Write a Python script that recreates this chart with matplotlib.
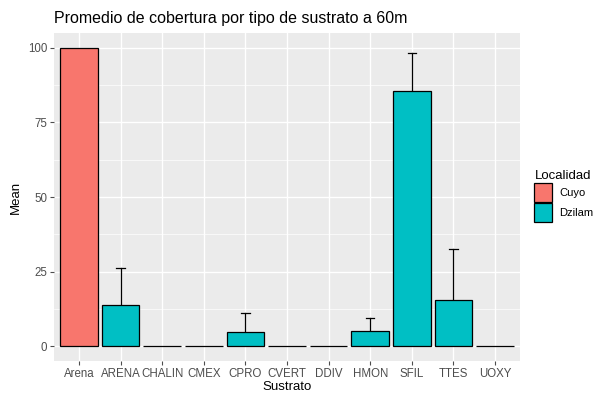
import numpy as np
import matplotlib.pyplot as plt
from matplotlib.patches import Patch

plt.rcParams['font.family'] = ['Liberation Sans', 'DejaVu Sans']

sustrato = ["Arena", "ARENA", "CHALIN", "CMEX", "CPRO", "CVERT", "DDIV", "HMON", "SFIL", "TTES", "UOXY"]
localidad = ["Cuyo", "Dzilam", "Dzilam", "Dzilam", "Dzilam", "Dzilam", "Dzilam", "Dzilam", "Dzilam", "Dzilam", "Dzilam"]
mean = [100, 13.9, 0, 0, 4.8, 0, 0, 5.0, 85.7, 15.6, 0]
upper = [100, 26.2, 0, 0, 11.0, 0, 0, 9.5, 98.2, 32.4, 0]

colores = {"Cuyo": "#F8766D", "Dzilam": "#00BFC4"}

fig = plt.figure(figsize=(6.08, 4.04), dpi=100)
ax = fig.add_axes([54/608, 1 - 361/404, (520-54)/608, (361-33)/404])
ax.set_facecolor("#EBEBEB")
for s in ax.spines.values():
    s.set_visible(False)

x = np.arange(1, len(sustrato) + 1)

# grid ggplot style
for v in [12.5, 37.5, 62.5, 87.5]:
    ax.axhline(v, color="white", lw=0.5, zorder=0)
for v in [0, 25, 50, 75, 100]:
    ax.axhline(v, color="white", lw=1.0, zorder=0)
for xi in x:
    ax.axvline(xi, color="white", lw=1.0, zorder=0)

# error bars (upper only)
for xi, m, u in zip(x, mean, upper):
    if u > m:
        ax.plot([xi, xi], [m, u], color="black", lw=0.9, zorder=1)
        ax.plot([xi - 0.1, xi + 0.1], [u, u], color="black", lw=0.9, zorder=1)

ax.bar(x, mean, width=0.9, color=[colores[l] for l in localidad],
       edgecolor="black", linewidth=0.9, zorder=2)

ax.set_xlim(0.4, 11.6)
ax.set_ylim(-5, 105)
ax.set_yticks([0, 25, 50, 75, 100])
ax.set_xticks(x)
ax.set_xticklabels(sustrato)
ax.tick_params(colors="#4D4D4D", labelsize=8.3, length=3, width=0.8, pad=2)
ax.set_xlabel("Sustrato", fontsize=9.5, labelpad=1)
ax.set_ylabel("Mean", fontsize=9.5, labelpad=4)
ax.set_title("Promedio de cobertura por tipo de sustrato a 60m", loc="left",
             fontsize=11.5, pad=7, x=0)

handles = [Patch(facecolor=colores[k], edgecolor="black", linewidth=0.9, label=k)
           for k in ["Cuyo", "Dzilam"]]
leg = fig.legend(handles=handles, title="Localidad", loc="upper left",
                 bbox_to_anchor=(530/608, 1 - 166/404), frameon=False,
                 fontsize=8, title_fontsize=9.5, handlelength=1.6, handleheight=2.3,
                 handletextpad=0.6, labelspacing=0.05, borderaxespad=0)
leg._legend_box.align = "left"

fig.savefig("out.png", dpi=100)
